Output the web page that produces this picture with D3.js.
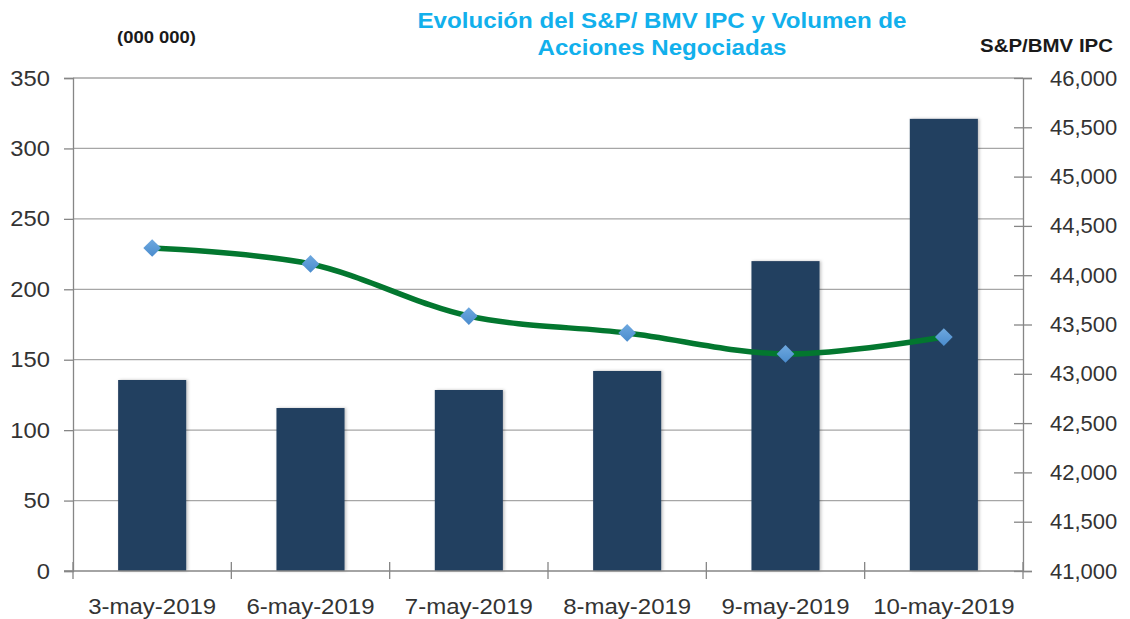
<!DOCTYPE html>
<html>
<head>
<meta charset="utf-8">
<script src="https://cdn.jsdelivr.net/npm/d3@7"></script>
<style>
  html, body { margin: 0; padding: 0; background: #fff; }
  svg { display: block; }
</style>
</head>
<body>
<svg id="chart"></svg>
<script>
// data
const categories = ['3-may-2019', '6-may-2019', '7-may-2019', '8-may-2019', '9-may-2019', '10-may-2019'];
const volume = [135.6, 115.7, 128.5, 142, 220, 321];          // millions of shares
const ipc = [44276, 44114, 43586, 43414, 43201, 43373];         // S&P/BMV IPC
const leftTicks = [0, 50, 100, 150, 200, 250, 300, 350];
const rightTicks = d3.range(41000, 46001, 500);

const width = 1130;
const height = 619;
const plotLeft = 73;
const plotRight = 1023;
const plotTop = 78;
const plotBottom = 571;

const svg = d3.select('#chart').attr('width', width).attr('height', height);

// widen a text a bit, the source chart is horizontally stretched
function stretch(sel, factor) {
  sel.each(function() {
    const len = this.getComputedTextLength();
    d3.select(this).attr('textLength', len * factor).attr('lengthAdjust', 'spacingAndGlyphs');
  });
}

const defs = svg.append('defs');
const shadow = defs.append('filter').attr('id', 'barShadow').attr('x', '-20%').attr('y', '-5%').attr('width', '140%').attr('height', '110%');
shadow.append('feDropShadow').attr('dx', 1.5).attr('dy', 0).attr('stdDeviation', 1.5).attr('flood-color', '#000').attr('flood-opacity', 0.25);

const x = d3.scaleBand().domain(categories).range([plotLeft, plotRight]).paddingInner(0.57).paddingOuter(0.285);
const xOuter = d3.scaleBand().domain(categories).range([plotLeft, plotRight]);
const yL = d3.scaleLinear().domain([0, 350]).range([plotBottom, plotTop]);
const yR = d3.scaleLinear().domain([41000, 46000]).range([plotBottom, plotTop]);

const tickFont = "'Liberation Sans', Arial, sans-serif";

// gridlines
svg.append('g')
  .selectAll('line')
  .data(leftTicks.filter(t => t > 0))
  .join('line')
  .attr('x1', plotLeft)
  .attr('x2', plotRight)
  .attr('y1', d => yL(d))
  .attr('y2', d => yL(d))
  .attr('stroke', '#a6a6a6')
  .attr('stroke-width', 1.3);

// bars
svg.append('g')
  .selectAll('rect')
  .data(volume)
  .join('rect')
  .attr('x', (d, i) => x(categories[i]))
  .attr('y', d => yL(d))
  .attr('width', x.bandwidth())
  .attr('height', d => yL(0) - yL(d))
  .attr('fill', '#243f60')
  .attr('filter', 'url(#barShadow)');

// left axis
const axisL = svg.append('g')
  .attr('transform', `translate(${plotLeft},0)`)
  .call(d3.axisLeft(yL).tickValues(leftTicks).tickSize(9).tickPadding(14));
axisL.select('.domain').attr('stroke', '#868686').attr('stroke-width', 1.3);
axisL.selectAll('.tick line').attr('stroke', '#868686').attr('stroke-width', 1.3);
axisL.selectAll('text').attr('font-family', tickFont).attr('font-size', 22).attr('fill', '#333');
stretch(axisL.selectAll('text'), 1.08);

// right axis
const axisR = svg.append('g')
  .attr('transform', `translate(${plotRight},0)`)
  .call(d3.axisRight(yR).tickValues(rightTicks).tickSize(9).tickFormat(d3.format(',')).tickPadding(18));
axisR.select('.domain').attr('stroke', '#868686').attr('stroke-width', 1.3);
axisR.selectAll('.tick line').attr('stroke', '#868686').attr('stroke-width', 1.3).attr('x1', -9);
axisR.selectAll('text').attr('font-family', tickFont).attr('font-size', 22).attr('fill', '#333');

// bottom axis with boundary ticks
const axisB = svg.append('g').attr('transform', `translate(0,${plotBottom})`);
axisB.append('line')
  .attr('x1', plotLeft - 9).attr('x2', plotRight)
  .attr('stroke', '#868686').attr('stroke-width', 1.3);
const bounds = categories.map(c => xOuter(c)).concat([plotRight]);
axisB.selectAll('.btick')
  .data(bounds)
  .join('line')
  .attr('class', 'btick')
  .attr('x1', d => d).attr('x2', d => d)
  .attr('y1', -9).attr('y2', 8)
  .attr('stroke', '#868686').attr('stroke-width', 1.3);
const bLabels = axisB.selectAll('.blabel')
  .data(categories)
  .join('text')
  .attr('class', 'blabel')
  .attr('x', d => xOuter(d) + xOuter.bandwidth() / 2)
  .attr('y', 43)
  .attr('text-anchor', 'middle')
  .attr('font-family', tickFont)
  .attr('font-size', 22)
  .attr('fill', '#333')
  .text(d => d);
stretch(bLabels, 1.09);

// IPC line
const line = d3.line()
  .x((d, i) => xOuter(categories[i]) + xOuter.bandwidth() / 2)
  .y(d => yR(d))
  .curve(d3.curveCatmullRom.alpha(0.5));
svg.append('path')
  .datum(ipc)
  .attr('d', line)
  .attr('fill', 'none')
  .attr('stroke', '#03772f')
  .attr('stroke-width', 5.5)
  .attr('stroke-linecap', 'round');

const grad = defs.append('linearGradient').attr('id', 'diamondGrad').attr('x1', 0).attr('y1', 0).attr('x2', 0).attr('y2', 1);
grad.append('stop').attr('offset', '0%').attr('stop-color', '#6ea8df');
grad.append('stop').attr('offset', '100%').attr('stop-color', '#4a8ccd');

svg.append('g')
  .selectAll('path')
  .data(ipc)
  .join('path')
  .attr('d', d3.symbol(d3.symbolDiamond2, 200))
  .attr('transform', (d, i) => `translate(${xOuter(categories[i]) + xOuter.bandwidth() / 2},${yR(d)})`)
  .attr('fill', 'url(#diamondGrad)');

// titles
const title = svg.append('text')
  .attr('text-anchor', 'middle')
  .attr('font-family', "'Liberation Sans', Arial, sans-serif")
  .attr('font-weight', 'bold')
  .attr('font-size', 22)
  .attr('fill', '#12b0ec');
title.append('tspan').attr('x', 662).attr('y', 28).attr('textLength', 489).attr('lengthAdjust', 'spacingAndGlyphs')
  .text('Evolución del S&P/ BMV IPC y Volumen de');
title.append('tspan').attr('x', 662).attr('y', 55).attr('textLength', 249).attr('lengthAdjust', 'spacingAndGlyphs')
  .text('Acciones Negociadas');

svg.append('text')
  .attr('x', 156.5).attr('y', 43)
  .attr('text-anchor', 'middle')
  .attr('font-family', "'Liberation Sans', Arial, sans-serif")
  .attr('font-weight', 'bold')
  .attr('font-size', 17)
  .attr('fill', '#1a1a1a')
  .attr('textLength', 79).attr('lengthAdjust', 'spacingAndGlyphs')
  .text('(000 000)');

svg.append('text')
  .attr('x', 1046.5).attr('y', 52)
  .attr('text-anchor', 'middle')
  .attr('font-family', "'Liberation Sans', Arial, sans-serif")
  .attr('font-weight', 'bold')
  .attr('font-size', 19)
  .attr('fill', '#1a1a1a')
  .attr('textLength', 133).attr('lengthAdjust', 'spacingAndGlyphs')
  .text('S&P/BMV IPC');
</script>
</body>
</html>
